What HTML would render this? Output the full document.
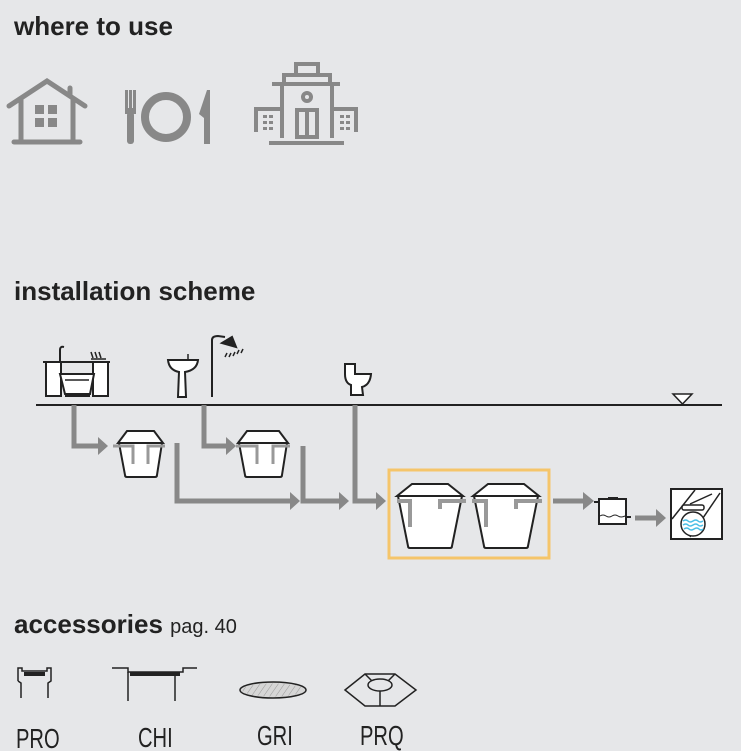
<!DOCTYPE html>
<html><head><style>
body{margin:0;background:#e6e7e9;}
svg{display:block;}
</style></head><body>
<svg width="741" height="751" viewBox="0 0 741 751" xmlns="http://www.w3.org/2000/svg" font-family="Liberation Sans, sans-serif">
<rect width="741" height="751" fill="#e6e7e9"/>
<text x="14" y="35" font-size="26" font-weight="bold" fill="#222">where to use</text>
<text x="14" y="300" font-size="26" font-weight="bold" fill="#222">installation scheme</text>
<text x="14" y="633" font-size="26" font-weight="bold" fill="#222">accessories <tspan font-size="20" font-weight="normal">pag. 40</tspan></text>

<!-- house -->
<g fill="none" stroke="#888" stroke-width="5" stroke-linecap="round">
<polyline points="9,106 47,81 85,106"/>
<line x1="21" y1="100" x2="21" y2="140"/><line x1="73" y1="100" x2="73" y2="140"/>
<line x1="14" y1="142" x2="80" y2="142"/>
<line x1="70" y1="88" x2="70" y2="95"/>
</g>
<g fill="#888"><rect x="35" y="105" width="9" height="9"/><rect x="48" y="105" width="9" height="9"/><rect x="35" y="118" width="9" height="9"/><rect x="48" y="118" width="9" height="9"/></g>
<!-- fork plate knife -->
<g fill="#888">
<rect x="125" y="90" width="3" height="22"/><rect x="129" y="90" width="3" height="22"/><rect x="133" y="90" width="3" height="22"/>
<rect x="125" y="108" width="11" height="6"/><rect x="127" y="112" width="7" height="32" rx="3"/>
<path d="M207,90 L210,90 L210,144 L204,144 L204,118 L199,114 Z"/>
</g>
<circle cx="166" cy="117" r="21" fill="none" stroke="#888" stroke-width="8"/>
<!-- building -->
<g fill="none" stroke="#888" stroke-width="4">
<rect x="296" y="64" width="22" height="11"/>
<rect x="284" y="75" width="46" height="9"/>
<line x1="272" y1="84" x2="340" y2="84"/>
<line x1="282" y1="84" x2="282" y2="138"/><line x1="332" y1="84" x2="332" y2="138"/>
<circle cx="307" cy="97" r="4"/>
<rect x="297" y="110" width="20" height="27"/><line x1="307" y1="110" x2="307" y2="137"/>
<polyline points="282,109 256,109 256,132"/><polyline points="332,109 356,109 356,132"/>
<line x1="269" y1="143" x2="344" y2="143"/>
</g>
<g fill="#888">
<rect x="263" y="115" width="4" height="3"/><rect x="269" y="115" width="4" height="3"/><rect x="263" y="121" width="4" height="3"/><rect x="269" y="121" width="4" height="3"/><rect x="263" y="127" width="4" height="3"/><rect x="269" y="127" width="4" height="3"/>
<rect x="340" y="115" width="4" height="3"/><rect x="346" y="115" width="4" height="3"/><rect x="340" y="121" width="4" height="3"/><rect x="346" y="121" width="4" height="3"/><rect x="340" y="127" width="4" height="3"/><rect x="346" y="127" width="4" height="3"/>
</g>

<!-- ground line -->
<line x1="36" y1="405" x2="722" y2="405" stroke="#222" stroke-width="2"/>
<polygon points="673,394 692,394 682.5,404" fill="#fff" stroke="#222" stroke-width="1.5"/>

<!-- fixtures -->
<g stroke="#222" stroke-width="2" fill="#fff">
<rect x="46" y="362" width="15" height="34"/><rect x="93" y="362" width="15" height="34"/>
<path d="M60,374 L94,374 L90,394 L65,394 Z"/>
<line x1="43" y1="362" x2="110" y2="362"/>
<path d="M60,362 L60,350 Q60,346 64,347" fill="none"/>
<path d="M168,360 L198,360 Q197,370 185,372 L186,397 L178,397 L179,372 Q169,370 168,360 Z"/>
<path d="M212,397 L212,340 Q212,336 218,336 L225,337" fill="none"/>
<path d="M222,343 L232,337 L236,347 Z" fill="#222"/>
<path d="M345,364 L355,364 L355,374 L371,374 Q370,385 362,387 L363,395 L351,395 L351,385 Q345,383 345,374 Z"/>
</g>
<g stroke="#222" stroke-width="1.5">
<line x1="65" y1="380" x2="89" y2="380"/><line x1="91" y1="352" x2="93" y2="358"/><line x1="95" y1="352" x2="97" y2="358"/><line x1="99" y1="352" x2="101" y2="358"/>
<line x1="91" y1="359" x2="106" y2="359"/>
<line x1="227" y1="353" x2="225" y2="357"/><line x1="231" y1="353" x2="229" y2="357"/><line x1="235" y1="352" x2="233" y2="356"/><line x1="239" y1="350" x2="237" y2="354"/><line x1="243" y1="349" x2="241" y2="353"/>
<line x1="188" y1="354" x2="188" y2="360"/>
</g>
<rect x="65" y="394" width="25" height="3" fill="#222"/>

<!-- gray arrows -->
<g fill="none" stroke="#888" stroke-width="5">
<polyline points="74,405 74,446 100,446"/>
<polyline points="177,443 177,501 292,501"/>
<polyline points="204,405 204,446 228,446"/>
<polyline points="303,446 303,501 341,501"/>
<polyline points="355,405 355,501 378,501"/>
<line x1="553" y1="501" x2="585" y2="501"/>
<line x1="635" y1="518" x2="658" y2="518"/>
</g>
<g fill="#888">
<polygon points="98,437 108,446 98,455"/>
<polygon points="290,492 300,501 290,510"/>
<polygon points="226,437 236,446 226,455"/>
<polygon points="339,492 349,501 339,510"/>
<polygon points="376,492 386,501 376,510"/>
<polygon points="583,492 594,501 583,510"/>
<polygon points="656,509 666,518 656,527"/>
</g>

<!-- small tanks -->
<g stroke="#222" stroke-width="2" fill="#fff">
<path d="M118,443 L127,431 L154,431 L163,443 Z"/>
<path d="M119,443 L162,443 L157,475 Q157,477 155,477 L127,477 Q125,477 125,475 Z"/>
<path d="M238,443 L247,431 L279,431 L288,443 Z"/>
<path d="M239,443 L287,443 L282,475 Q282,477 280,477 L247,477 Q245,477 245,475 Z"/>
</g>
<g stroke="#999" stroke-width="3" fill="none">
<polyline points="113,446 133,446 133,464"/><polyline points="148,464 148,446 165,446"/>
<polyline points="236,446 257,446 257,464"/><polyline points="273,464 273,446 290,446"/>
</g>

<!-- orange box & big tanks -->
<rect x="389" y="470" width="160" height="88" fill="none" stroke="#f5c56a" stroke-width="3"/>
<g stroke="#222" stroke-width="2" fill="#fff">
<path d="M397,496 L412,484 L448,484 L463,496 Z"/>
<path d="M398,496 L462,496 L452,546 Q452,548 450,548 L410,548 Q408,548 408,546 Z"/>
<path d="M473,496 L488,484 L524,484 L539,496 Z"/>
<path d="M474,496 L538,496 L528,546 Q528,548 526,548 L486,548 Q484,548 484,546 Z"/>
</g>
<g stroke="#999" stroke-width="4" fill="none">
<polyline points="397,501 410,501 410,527"/><polyline points="440,509 440,501 466,501"/>
<polyline points="472,501 486,501 486,527"/><polyline points="516,509 516,501 542,501"/>
</g>

<!-- separator box -->
<rect x="599" y="499" width="27" height="25" fill="#fff" stroke="#222" stroke-width="2"/>
<rect x="608" y="497" width="10" height="3" fill="#222"/>
<line x1="594" y1="502" x2="599" y2="502" stroke="#222" stroke-width="2"/>
<line x1="626" y1="517" x2="631" y2="517" stroke="#222" stroke-width="2"/>
<path d="M600,516 q3,-2 6,0 t6,0 t6,0 t7,0" fill="none" stroke="#222" stroke-width="1"/>

<!-- final box -->
<rect x="671" y="489" width="51" height="50" fill="#fff" stroke="#222" stroke-width="2"/>
<g stroke="#222" stroke-width="1.5" fill="none">
<line x1="672" y1="519" x2="695" y2="490"/><line x1="690" y1="537" x2="720" y2="493"/>
<line x1="690" y1="504" x2="712" y2="494"/>
<rect x="682" y="505" width="22" height="5" rx="2"/>
<circle cx="693" cy="524" r="12" fill="#fff"/>
</g>
<g stroke="#4bbfe6" stroke-width="1.5" fill="none">
<path d="M683,521 q3,-2 5,0 t5,0 t5,0 t5,0"/><path d="M683,525 q3,-2 5,0 t5,0 t5,0 t5,0"/><path d="M684,529 q3,-2 5,0 t5,0 t5,0 t4,0"/>
</g>

<!-- accessories -->
<g stroke="#222" stroke-width="1.5" fill="none">
<polyline points="18,681 18,668 22,668 22,671 47,671 47,668 51,668 51,681 48,683 48,698"/>
<polyline points="18,681 21,683 21,698"/>
<polyline points="112,668 128,668 128,672 183,672 183,668 197,668"/>
<line x1="128" y1="672" x2="128" y2="701"/><line x1="175" y1="672" x2="175" y2="701"/>
<path d="M345,690 L365,674 L395,674 L416,690 L395,706 L365,706 Z"/>
<ellipse cx="380" cy="685" rx="12" ry="6"/>
<line x1="365" y1="674" x2="372" y2="681"/><line x1="395" y1="674" x2="388" y2="681"/>
<line x1="380" y1="691" x2="380" y2="706"/>
</g>
<rect x="24" y="672" width="21" height="4" fill="#222"/>
<rect x="130" y="672" width="50" height="4" fill="#222"/>
<defs><pattern id="h" width="5" height="5" patternUnits="userSpaceOnUse" patternTransform="rotate(35)"><line x1="0" y1="0" x2="0" y2="5" stroke="#999" stroke-width="1"/></pattern></defs>
<ellipse cx="273" cy="690" rx="33" ry="8" fill="#d6d6d6" stroke="#222" stroke-width="1.5"/>
<ellipse cx="273" cy="690" rx="31" ry="6.5" fill="url(#h)"/>
<g font-size="28" fill="#222">
<text x="16" y="748" transform="scale(0.72,1)" transform-origin="16 748">PRO</text>
<text x="138" y="747" transform="scale(0.72,1)" transform-origin="138 747">CHI</text>
<text x="257" y="745" transform="scale(0.72,1)" transform-origin="257 745">GRI</text>
<text x="360" y="745" transform="scale(0.72,1)" transform-origin="360 745">PRQ</text>
</g>
</svg>
</body></html>
